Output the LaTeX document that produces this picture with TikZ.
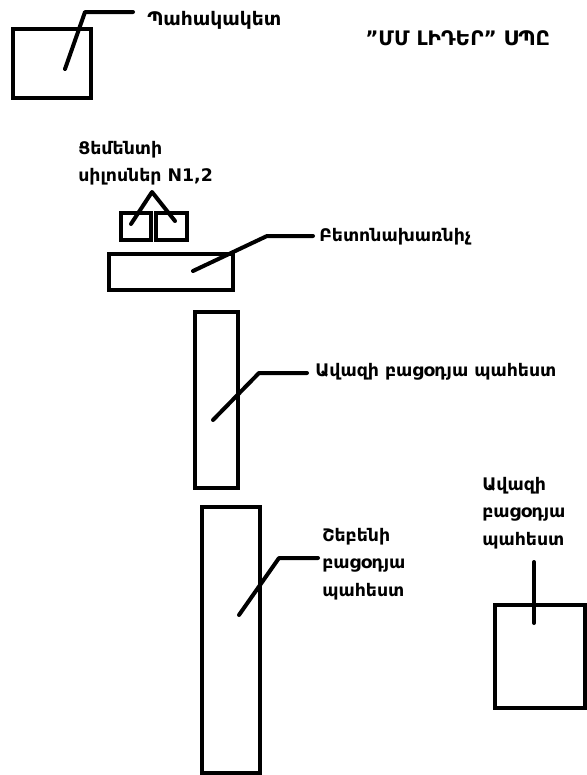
\documentclass[tikz,border=0pt]{standalone}
\usepackage{fontspec}
\setmainfont{DejaVu Sans}
\usetikzlibrary{positioning}

\tikzset{
    box/.style={draw, line width=3pt, inner sep=0pt},
    leader/.style={line width=3pt, line cap=round, line join=round},
    lbl/.style={font=\bfseries\fontsize{13}{20.5}\selectfont, inner sep=0pt, align=left}
}

\begin{document}
\begin{tikzpicture}[x=0.75pt,y=-0.75pt]

\useasboundingbox (0,0) rectangle (586,775);

% Guard post
\node[box, minimum width=58.5pt, minimum height=51.75pt] (guard) at (52,63.5) {};
\node[lbl, anchor=west, font=\bfseries\fontsize{14}{20}\selectfont] (guardlbl) at (147,20) {Պահակակետ};
\coordinate (guardin) at (65,69);
\coordinate (guardend) at (133,12);
\draw[leader] (guardin) -- (85,12) -- (guardend);

% Company name
\node[lbl, anchor=west, font=\bfseries\fontsize{15}{20}\selectfont] (company) at (365,38) {\char"22ՄՄ ԼԻԴԵՐ\char"22{} ՍՊԸ};

% Cement silos
\node[box, minimum width=22.5pt, minimum height=20.25pt] (silo1) at (136,226.5) {};
\node[box, minimum width=23.25pt, minimum height=20.25pt] (silo2) at (171.5,226.5) {};
\node[lbl, anchor=north west] (silolbl) at (78,141) {Ցեմենտի\\սիլոսներ N1,2};
\coordinate (siloin1) at (131,224);
\coordinate (siloin2) at (175,221);
\coordinate (silotop) at (152,192);
\draw[leader] (siloin1) -- (silotop) -- (siloin2);

% Concrete mixer
\node[box, minimum width=93pt, minimum height=27pt] (mixer) at (171,272) {};
\node[lbl, anchor=west] (mixerlbl) at (319,237) {Բետոնախառնիչ};
\coordinate (mixerin) at (193,271);
\coordinate (mixerend) at (313,236);
\draw[leader] (mixerin) -- (267,236) -- (mixerend);

% Sand storage
\node[box, minimum width=32.25pt, minimum height=132pt] (sand) at (216.5,400) {};
\node[lbl, anchor=west] (sandlbl) at (315,372) {Ավազի բացօդյա պահեստ};
\coordinate (sandin) at (213,420);
\coordinate (sandend) at (307,373);
\draw[leader] (sandin) -- (259,373) -- (sandend);

% Gravel storage
\node[box, minimum width=43.5pt, minimum height=199.5pt] (gravel) at (231,640) {};
\node[lbl, anchor=north west] (gravellbl) at (322,528) {Շեբենի\\բացօդյա\\պահեստ};
\coordinate (gravelin) at (239,615);
\coordinate (gravelend) at (318,558);
\draw[leader] (gravelin) -- (279,558) -- (gravelend);

% Second sand storage
\node[box, minimum width=67.5pt, minimum height=77.25pt] (sandtwo) at (540,656.5) {};
\node[lbl, anchor=north west] (sandtwolbl) at (482,477) {Ավազի\\բացօդյա\\պահեստ};
\coordinate (sandtwoin) at (534,623);
\coordinate (sandtwotop) at (534,562);
\draw[leader] (sandtwotop) -- (sandtwoin);

\end{tikzpicture}
\end{document}
